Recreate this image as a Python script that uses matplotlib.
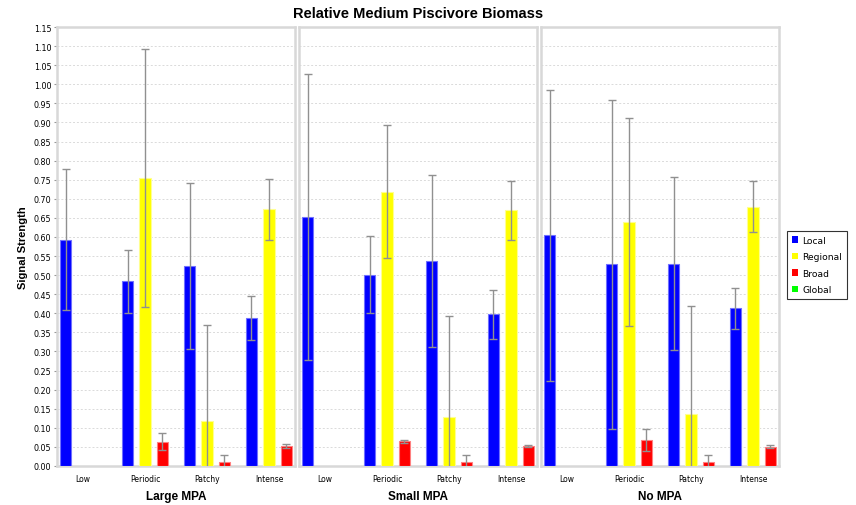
import numpy as np
import matplotlib
matplotlib.use("Agg")
import matplotlib.pyplot as plt
from matplotlib.patches import Patch

nan = np.nan

categories = ["Low", "Periodic", "Patchy", "Intense"]
panels = ["Large MPA", "Small MPA", "No MPA"]
series = ["Local", "Regional", "Broad", "Global"]
colors = ["#0000ff", "#ffff00", "#ff0000", "#00ff00"]
edges = ["#7070ff", "#ffff90", "#ff8080", "#80ff80"]

# mean signal strength per panel: rows = Local, Regional, Broad
means = {
    "Large MPA": [[0.593, 0.484, 0.524, 0.387],
                  [nan, 0.754, 0.119, 0.673],
                  [nan, 0.064, 0.010, 0.053]],
    "Small MPA": [[0.653, 0.501, 0.537, 0.397],
                  [nan, 0.718, 0.128, 0.670],
                  [nan, 0.065, 0.010, 0.052]],
    "No MPA":    [[0.604, 0.528, 0.530, 0.413],
                  [nan, 0.639, 0.136, 0.679],
                  [nan, 0.068, 0.010, 0.051]],
}
# standard deviations (symmetric error bars)
errors = {
    "Large MPA": [[0.185, 0.083, 0.218, 0.058],
                  [nan, 0.338, 0.251, 0.080],
                  [nan, 0.022, 0.020, 0.005]],
    "Small MPA": [[0.375, 0.101, 0.226, 0.065],
                  [nan, 0.174, 0.266, 0.077],
                  [nan, 0.004, 0.020, 0.003]],
    "No MPA":    [[0.382, 0.431, 0.227, 0.054],
                  [nan, 0.272, 0.282, 0.067],
                  [nan, 0.030, 0.020, 0.004]],
}

W, H = 856, 506
fig = plt.figure(figsize=(W / 100, H / 100), dpi=100)
fig.patch.set_facecolor("white")

lefts = [57, 299, 541]
pw, top, bottom = 238, 28, 467
bar_w = 0.185
step = 0.282
x = np.arange(len(categories))

axes = []
for i, name in enumerate(panels):
    ax = fig.add_axes([lefts[i] / W, 1 - bottom / H, pw / W, (bottom - top) / H])
    axes.append(ax)
    for j in range(3):
        m = np.array(means[name][j])
        e = np.array(errors[name][j])
        pos = x + (j - 1) * step
        ax.bar(pos, m, width=bar_w, color=colors[j], edgecolor=edges[j],
               linewidth=0.8, zorder=3)
        ax.errorbar(pos, m, yerr=e, fmt="none", ecolor="#909090",
                    elinewidth=1.0, capsize=3.2, capthick=1.0, zorder=4)
    ax.set_xlim(-0.42, 3.42)
    ax.set_ylim(0, 1.15)
    ax.set_yticks(np.arange(0, 1.1501, 0.05))
    ax.yaxis.grid(True, linestyle=(0, (2, 2)), color="#dadada", linewidth=0.7)
    ax.set_axisbelow(True)
    for s in ax.spines.values():
        s.set_color("#d8d8d8")
        s.set_linewidth(1.8)
    ax.set_xticks(x)
    ax.set_xticklabels(categories, fontsize=5.5, fontfamily="DejaVu Sans")
    ax.tick_params(axis="x", length=0, pad=6)
    ax.set_xlabel(name, fontsize=8.5, fontweight="bold",
                  fontfamily="Liberation Sans", labelpad=5)
    if i == 0:
        ax.yaxis.set_major_formatter(plt.FormatStrFormatter("%.2f"))
        ax.tick_params(axis="y", labelsize=5.8, length=2, color="#999999", pad=2)
        for lab in ax.get_yticklabels():
            lab.set_fontfamily("DejaVu Sans")
        ax.set_ylabel("Signal Strength", fontsize=8, fontweight="bold",
                      fontfamily="Liberation Sans", labelpad=4)
    else:
        ax.tick_params(axis="y", length=0, labelleft=False)

fig.text(418.5 / W, 1 - 14 / H, "Relative Medium Piscivore Biomass",
         ha="center", va="center", fontsize=10.5, fontweight="bold",
         fontfamily="Liberation Sans")

handles = [Patch(facecolor=c, edgecolor="none") for c in colors]
leg = fig.legend(handles, series, loc="upper left",
                 bbox_to_anchor=(787 / W, 1 - 232 / H),
                 prop={"family": "DejaVu Sans", "size": 6.6},
                 frameon=True, fancybox=False,
                 handlelength=0.75, handleheight=0.75, handletextpad=0.4,
                 borderpad=0.5, labelspacing=0.82, borderaxespad=0)
leg.get_frame().set_edgecolor("black")
leg.get_frame().set_linewidth(0.8)

fig.savefig("out.png", dpi=100)
